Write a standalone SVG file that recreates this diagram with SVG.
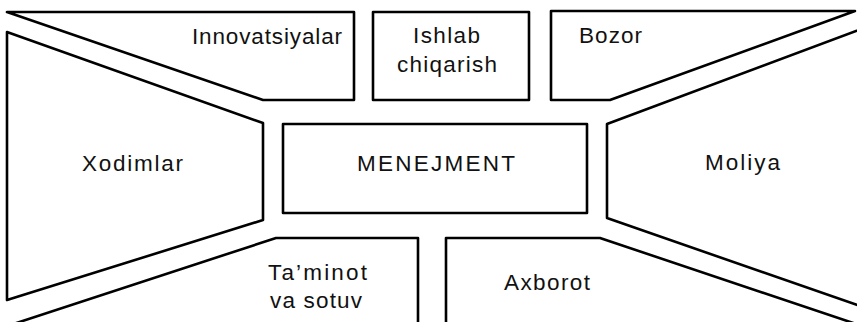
<svg xmlns="http://www.w3.org/2000/svg" width="857" height="322" viewBox="0 0 857 322">
<style>
.s{fill:#fff;stroke:#000;stroke-width:2.6;stroke-linejoin:round}
.t{font-family:"Liberation Sans",Arial,sans-serif;font-size:22.5px;fill:#111}
</style>
<rect width="857" height="322" fill="#fff"/>
<g id="innovatsiyalar">
<path class="s" d="M7,12 L354,12 L354,100 L263,100 Z"/>
<text class="t" x="192" y="44" textLength="150" lengthAdjust="spacing">Innovatsiyalar</text>
</g>
<g id="ishlab">
<rect class="s" x="373" y="12" width="156" height="88"/>
<text class="t" x="413" y="43" textLength="67" lengthAdjust="spacing">Ishlab</text>
<text class="t" x="397" y="72" textLength="100" lengthAdjust="spacing">chiqarish</text>
</g>
<g id="bozor">
<path class="s" d="M551,11 L855,11 L610,100 L551,100 Z"/>
<text class="t" x="579" y="43" textLength="63" lengthAdjust="spacing">Bozor</text>
</g>
<g id="xodimlar">
<path class="s" d="M7,32 L263,123 L263,220 L7,300 Z"/>
<text class="t" x="82" y="171" textLength="101" lengthAdjust="spacing">Xodimlar</text>
</g>
<g id="menejment">
<rect class="s" x="283" y="124" width="304" height="89"/>
<text class="t" x="357" y="171" textLength="158" lengthAdjust="spacing">MENEJMENT</text>
</g>
<g id="moliya">
<path class="s" d="M880,22 L607,124 L607,218 L880,313"/>
<text class="t" x="705" y="170" textLength="75" lengthAdjust="spacing">Moliya</text>
</g>
<g id="taminot">
<path class="s" d="M418,335 L418,238 L276,238 L-8,331"/>
<text class="t" x="268" y="280" textLength="99" lengthAdjust="spacing">Ta’minot</text>
<text class="t" x="270" y="308" textLength="92" lengthAdjust="spacing">va sotuv</text>
</g>
<g id="axborot">
<path class="s" d="M446,335 L446,238 L600,238 L880,332"/>
<text class="t" x="504" y="290" textLength="86" lengthAdjust="spacing">Axborot</text>
</g>
<g id="connectors"></g>
</svg>
